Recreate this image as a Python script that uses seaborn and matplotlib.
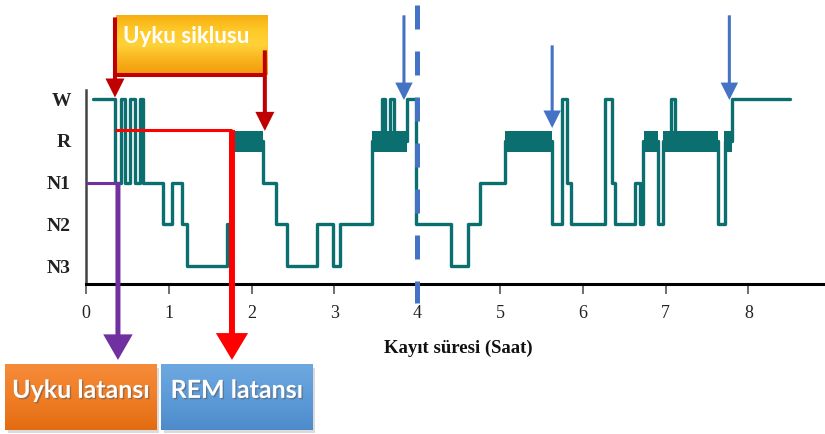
import numpy as np
import pandas as pd
import matplotlib
matplotlib.use("Agg")
import matplotlib.pyplot as plt
import matplotlib.patheffects as pe
from matplotlib.colors import LinearSegmentedColormap
from matplotlib.patches import Rectangle
import seaborn as sns

# ---------------- data ----------------
stage_order = ["N3", "N2", "N1", "R", "W"]
x_ticks = [0, 1, 2, 3, 4, 5, 6, 7, 8, 9]
x_label = "Kayıt süresi (Saat)"

times = [0.085, 0.35, 0.42, 0.47, 0.53, 0.59, 0.65, 0.69, 0.93, 1.04,
         1.16, 1.22, 1.70, 1.76, 2.14, 2.29, 2.43, 2.79, 2.98, 3.07,
         3.45, 3.58, 3.61, 3.67, 3.72, 3.88, 3.98, 4.41, 4.61, 4.76,
         5.06, 5.63, 5.75, 5.81, 5.86, 6.27, 6.35, 6.39, 6.63, 6.69,
         6.73, 6.91, 6.97, 7.07, 7.11, 7.63, 7.72, 7.80, 8.50]
stages = ["W", "N1", "W", "N1", "W", "N1", "W", "N1", "N2", "N1",
          "N2", "N3", "N2", "R", "N1", "N2", "N3", "N2", "N3", "N2",
          "R", "W", "R", "W", "R", "W", "N2", "N3", "N2", "N1",
          "R", "N2", "W", "N1", "N2", "W", "N1", "N2", "N1", "N2",
          "R", "N2", "R", "W", "R", "N2", "R", "W", "W"]

rem_start = [1.76, 3.45, 5.06, 6.74, 6.97, 7.71]
rem_end = [2.14, 3.88, 5.63, 6.91, 7.63, 7.80]

# annotation anchors (hours)
sleep_onset = 0.386
cycle_start = 0.35
first_rem = 1.763
cycle_end = 2.16
cycle_marks = [3.84, 5.63, 7.77]
cycle_mark_stage = ["W", "R", "W"]
night_split = 4.0

label_cycle = "Uyku siklusu"
label_sl = "Uyku latansı"
label_rl = "REM latansı"

# ---------------- style ----------------
sns.set_theme(style="white")
plt.rcParams["font.family"] = ["Liberation Serif", "DejaVu Serif"]

TEAL = "#0C6F6F"
DARKRED = "#C00000"
RED = "#FF0000"
PURPLE = "#7030A0"
BLUE = "#4472C4"

lvl = {s: i for i, s in enumerate(stage_order)}
df = pd.DataFrame({"t": times, "level": [lvl[s] for s in stages]})

fig = plt.figure(figsize=(8.25, 4.34), dpi=100)
ax = fig.add_axes([86 / 825, (434 - 284) / 434, 9 * 82.8 / 825, 194 / 434])

sns.lineplot(data=df, x="t", y="level", drawstyle="steps-post",
             estimator=None, sort=False, color=TEAL, lw=2.4, ax=ax, zorder=3)
for s, e in zip(rem_start, rem_end):
    ax.fill_between([s, e], lvl["R"] - 0.27, lvl["R"] + 0.23,
                    color=TEAL, lw=0, zorder=3)

XL = (0, 9)
YL = (-0.43, 4.22)

ax.set_yticks(range(len(stage_order)))
ax.set_yticklabels(stage_order, fontweight="bold", fontsize=14, color="#222")
ax.set_xticks(x_ticks)
ax.set_xticklabels([str(v) for v in x_ticks], fontsize=13, color="#222")
ax.tick_params(axis="y", length=0, pad=11)
ax.tick_params(axis="x", direction="out", length=7, width=1.2,
               color="#555", pad=8, bottom=True)
ax.set_xlabel(x_label, fontweight="bold", fontsize=13.5, labelpad=13,
              color="#111")
ax.set_ylabel("")
for sp in ["top", "right"]:
    ax.spines[sp].set_visible(False)
ax.spines["bottom"].set_color("black")
ax.spines["bottom"].set_linewidth(2.2)
ax.spines["left"].set_color("#444")
ax.spines["left"].set_linewidth(1.8)
ax.grid(False)
ax.set_facecolor("none")


def arrow(x, y0, y1, color, lw, hl, hw, z):
    ax.annotate("", xy=(x, y1), xytext=(x, y0),
                arrowprops=dict(arrowstyle=f"-|>,head_length={hl},head_width={hw}",
                                color=color, lw=lw, shrinkA=0, shrinkB=0,
                                mutation_scale=10, joinstyle="miter",
                                capstyle="butt"),
                annotation_clip=False, zorder=z)


def line(xs, ys, color, lw, z, **kw):
    ax.plot(xs, ys, color=color, lw=lw, zorder=z, clip_on=False,
            solid_capstyle="butt", **kw)


def grad_box(x0, x1, y0, y1, colors, z, shadow=True):
    if shadow:
        ax.add_patch(Rectangle((x0 + 0.03, y0 - 0.08), x1 - x0, y1 - y0,
                               color="#999", alpha=0.35, lw=0, zorder=z - 0.1,
                               clip_on=False))
    cmap = LinearSegmentedColormap.from_list("g", colors)
    grad = np.linspace(0, 1, 256).reshape(-1, 1)
    im = ax.imshow(grad, extent=(x0, x1, y0, y1), origin="upper",
                   aspect="auto", cmap=cmap, interpolation="bicubic",
                   zorder=z)
    im.set_clip_on(False)


# dashed split line
line([night_split, night_split], [6.25, -0.89], BLUE, 3.6, 6,
     linestyle=(0, (4.8, 4.4)))

# cycle-end arrows
for x, s in zip(cycle_marks, cycle_mark_stage):
    top = 6.01 if s == "W" else 5.29
    tip = lvl[s] - 0.02 if s == "W" else lvl[s] + 0.31
    arrow(x, top, tip, BLUE, 2.2, 0.9, 0.45, 6)

# sleep cycle box + bracket
grad_box(cycle_start + 0.012, cycle_end + 0.026, 4.575, 5.99,
         ["#F6AE13", "#FFC928", "#FFD23A", "#F7B21C", "#F29A0E"], 4,
         shadow=False)
ax.text(1.21, 5.5, label_cycle, color="white",
        fontsize=16, fontweight="bold", family=["Lato", "DejaVu Sans"],
        ha="center", va="center", zorder=5)
line([cycle_start, cycle_end], [4.575, 4.575], DARKRED, 2.9, 5)
arrow(cycle_start, 5.96, 4.04, DARKRED, 2.9, 0.9, 0.45, 5)
arrow(cycle_end, 5.17, 3.24, DARKRED, 2.9, 0.9, 0.45, 5)

# sleep latency (purple)
line([0, sleep_onset], [lvl["N1"], lvl["N1"]], PURPLE, 2.2, 6)
arrow(sleep_onset, lvl["N1"], -2.25, PURPLE, 3.6, 1.3, 0.75, 6)

# REM latency (red)
line([cycle_start, first_rem], [3.26, 3.26], RED, 2.2, 6)
arrow(first_rem, 3.26, -2.25, RED, 4.3, 1.3, 0.78, 6)

# bottom boxes
grad_box(-0.978, 0.857, -3.93, -2.37, ["#F58B3A", "#F07E26", "#E36C12"], 4)
grad_box(0.906, 2.74, -3.93, -2.37, ["#6EA8E0", "#5D9BD8", "#4E8BCB"], 4)
shadow_fx = [pe.SimplePatchShadow(offset=(1, -1), shadow_rgbFace="#555",
                                  alpha=0.5), pe.Normal()]
ax.text((-0.978 + 0.857) / 2, -2.98, label_sl, color="white", fontsize=18,
        fontweight="bold", family=["Lato", "DejaVu Sans"], ha="center",
        va="center", zorder=5, path_effects=shadow_fx)
ax.text((0.906 + 2.74) / 2, -2.98, label_rl, color="white", fontsize=18,
        fontweight="bold", family=["Lato", "DejaVu Sans"], ha="center",
        va="center", zorder=5, path_effects=shadow_fx)

ax.set_xlim(*XL)
ax.set_ylim(*YL)

fig.savefig("out.png", dpi=100, facecolor="white")
